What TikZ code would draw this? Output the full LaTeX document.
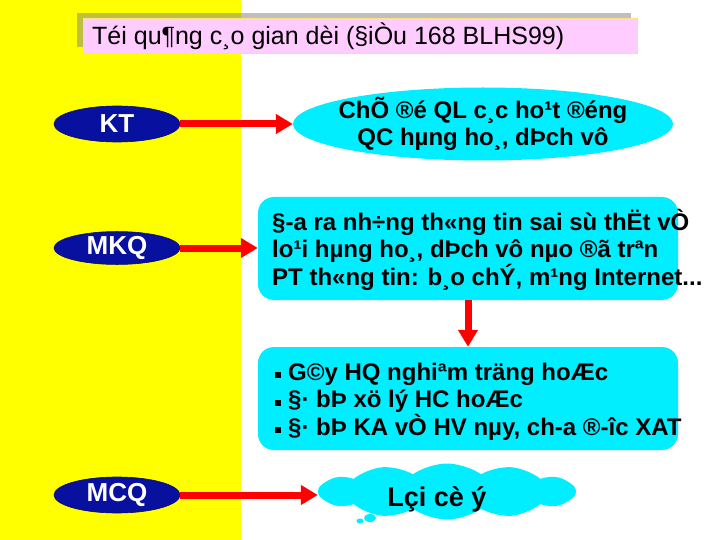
\documentclass[tikz,border=0pt]{standalone}
\usepackage{fontspec}
\setmainfont{Liberation Sans}
\usetikzlibrary{shapes.geometric,shapes.symbols,arrows.meta}
\definecolor{ybg}{RGB}{255,255,0}
\definecolor{navyb}{RGB}{8,16,160}
\definecolor{cyanb}{RGB}{0,238,255}
\definecolor{pinkb}{RGB}{255,204,255}
\definecolor{redarr}{RGB}{255,0,0}
\newcommand{\sqbul}{\rule[2pt]{6pt}{6pt}\hspace{7pt}}
\begin{document}
\begin{tikzpicture}[x=1pt,y=-1pt,
  lab/.style={ellipse,fill=navyb,draw=navyb!70!black,line width=0.6pt,minimum width=126pt,minimum height=36pt,inner sep=0pt,text=white,font=\fontsize{26}{30}\selectfont\bfseries},
  cbox/.style={rounded corners=16pt,fill=cyanb,minimum width=420pt,minimum height=103pt,inner sep=0pt},
  btxt/.style={font=\fontsize{24}{27.5}\selectfont\bfseries,inner sep=0pt},
  arr/.style={draw=redarr,line width=7pt,-{Triangle[length=17pt,width=19pt]}}]
\fill[white] (0,0) rectangle (720,540);
\fill[ybg] (0,0) rectangle (241,540);
\useasboundingbox (0,0) rectangle (720,540);
% title
\fill[gray,opacity=0.5] (77,13) rectangle (631,47);
\node[draw=yellow!50!orange!45,line width=0.8pt,fill=pinkb,minimum width=554pt,minimum height=35pt,inner sep=0pt] (title) at (360,35.5) {};
\node[anchor=base west,inner sep=0pt,font=\fontsize{25}{28}\selectfont] (titlet) at (92,45) {Téi qu¶ng c¸o gian dèi (§iÒu 168 BLHS99)};
% labels
\node[lab] (kt) at (117,124) {KT};
\node[lab,minimum height=32pt] (mkq) at (117,248) {MKQ};
\node[lab] (mcq) at (117,495) {MCQ};
% ellipse 1
\node[ellipse,fill=cyanb,minimum width=380pt,minimum height=73pt,inner sep=0pt] (e1) at (483,124) {};
\node[btxt,anchor=base] (e1a) at (483,119) {ChÕ ®é QL c¸c ho¹t ®éng};
\node[btxt,anchor=base] (e1b) at (483,146) {QC hµng ho¸, dÞch vô};
% box 2
\node[cbox] (b2) at (468,248.5) {};
\node[btxt,anchor=base west] (b2a) at (272,230) {§-a ra nh÷ng th«ng tin sai sù thËt vÒ};
\node[btxt,anchor=base west] (b2b) at (272,257.5) {lo¹i hµng ho¸, dÞch vô nµo ®ã trªn};
\node[btxt,anchor=base west] (b2c) at (272,285) {PT th«ng tin: b¸o chÝ, m¹ng Internet...};
% box 3
\node[cbox] (b3) at (468,398.5) {};
\node[btxt,anchor=base west] (b3a) at (275,380) {\sqbul G©y HQ nghiªm träng hoÆc};
\node[btxt,anchor=base west] (b3b) at (275,407.5) {\sqbul §· bÞ xö lý HC hoÆc};
\node[btxt,anchor=base west] (b3c) at (275,435) {\sqbul §· bÞ KA vÒ HV nµy, ch-a ®-îc XAT};
% cloud
\node[cloud,cloud puffs=12,cloud puff arc=70,aspect=4.8,fill=cyanb,minimum width=258pt,minimum height=56pt,inner sep=0pt] (cl) at (447,491.5) {};
\fill[cyanb] (360,521) ellipse [x radius=3.5pt,y radius=2.5pt];
\fill[cyanb] (370,518) ellipse [x radius=6pt,y radius=4pt];
\node[anchor=base,inner sep=0pt,font=\fontsize{27}{30}\selectfont\bfseries] (clt) at (437,506) {Lçi cè ý};
% arrows
\draw[arr] (kt.east) -- (e1.west);
\draw[arr] (mkq.east) -- (mkq.east -| b2.west);
\draw[arr] (b2.south) -- (b3.north);
\draw[arr] (mcq.east) -- (mcq.east -| cl.west);
\end{tikzpicture}
\end{document}
